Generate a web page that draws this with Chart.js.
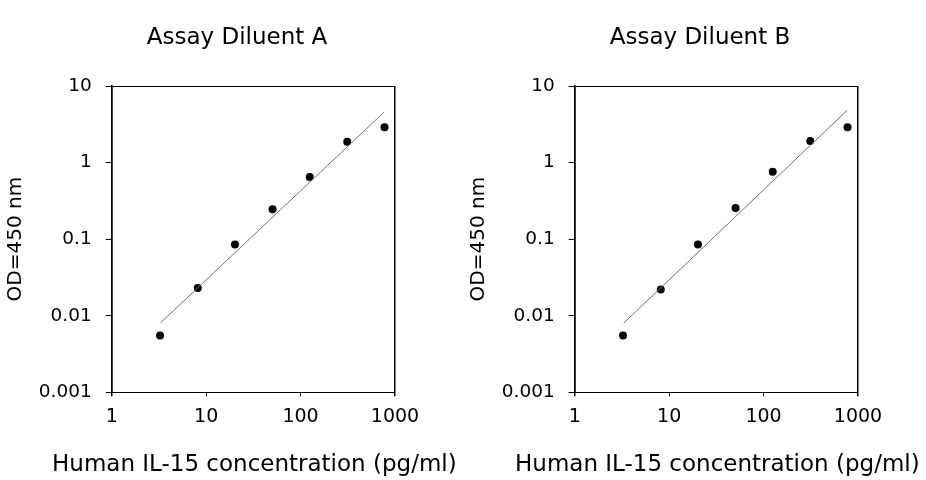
<!DOCTYPE html>
<html>
<head>
<meta charset="utf-8">
<script src="https://cdn.jsdelivr.net/npm/chart.js@4.4.1/dist/chart.umd.min.js"></script>
<style>
  html, body { margin: 0; padding: 0; background: #fff; overflow: hidden; }
  body { width: 926px; height: 480px; position: relative; }
  canvas { position: absolute; top: 0; }
  #chartA { left: 0; }
  #chartB { left: 463px; }
</style>
</head>
<body>
<canvas id="chartA" width="474" height="480"></canvas>
<canvas id="chartB" width="474" height="480"></canvas>
<script>
// values
const concentration = [3.25, 8.15, 20.2, 50.5, 125, 312, 775];
const odDiluentA = [0.0055, 0.023, 0.085, 0.245, 0.65, 1.87, 2.9];
const odDiluentB = [0.0055, 0.022, 0.085, 0.255, 0.76, 1.91, 2.9];

// end points of the fitted lines
const fitConc = [3.3, 765];
const fitDiluentA = [0.0081, 4.55];
const fitDiluentB = [0.0080, 4.8];

const xTicks = [1, 10, 100, 1000];
const yTicks = [0.001, 0.01, 0.1, 1, 10];

Chart.defaults.font.family = "'DejaVu Sans', sans-serif";
Chart.defaults.color = '#000';

// the built-in axis title squeezes text to the axis width, so the
// long x title is drawn here at its natural width
const xTitlePlugin = {
  id: 'xTitle',
  afterDraw(chart, args, opts) {
    const s = chart.scales.x;
    const ctx = chart.ctx;
    ctx.save();
    ctx.font = opts.size + 'px ' + Chart.defaults.font.family;
    ctx.fillStyle = '#000';
    ctx.textAlign = 'center';
    ctx.textBaseline = 'middle';
    ctx.fillText(opts.text, (s.left + s.right) / 2 + 1, s.bottom - 15);
    ctx.restore();
  }
};

function toPoints(xs, ys) {
  return xs.map((x, i) => ({ x: x, y: ys[i] }));
}

function frameColor(ctx, count) {
  return (ctx.index === 0 || ctx.index === count - 1) ? '#000' : 'rgba(0,0,0,0)';
}

function makeChart(id, title, od, fit) {
  return new Chart(document.getElementById(id), {
    type: 'scatter',
    data: {
      datasets: [
        {
          label: 'fit',
          data: toPoints(fitConc, fit),
          showLine: true,
          borderColor: '#707070',
          borderWidth: 1,
          pointRadius: 0
        },
        {
          label: 'OD',
          data: toPoints(concentration, od),
          pointRadius: 4,
          pointBackgroundColor: '#000',
          pointBorderWidth: 0
        }
      ]
    },
    plugins: [xTitlePlugin],
    options: {
      responsive: false,
      animation: false,
      layout: { padding: 0 },
      plugins: {
        legend: { display: false },
        tooltip: { enabled: false },
        title: {
          display: true,
          text: title,
          font: { size: 23, weight: 'normal' },
          color: '#000',
          padding: { top: 24, bottom: 34.4 }
        },
        xTitle: { text: 'Human IL-15 concentration (pg/ml)', size: 23 }
      },
      scales: {
        x: {
          type: 'logarithmic',
          min: 1,
          max: 1000,
          afterBuildTicks: s => { s.ticks = xTicks.map(v => ({ value: v })); },
          afterFit: s => { s.height = 87.7; },
          ticks: {
            callback: v => String(v),
            font: { size: 19 },
            padding: 9,
            maxRotation: 0
          },
          grid: {
            color: c => frameColor(c, xTicks.length),
            lineWidth: c => (c.index === 0 || c.index === xTicks.length - 1) ? 1.5 : 1,
            tickColor: '#000',
            tickLength: 4
          },
          border: { display: true, color: '#000', width: 1 }
        },
        y: {
          type: 'logarithmic',
          min: 0.001,
          max: 10,
          afterBuildTicks: s => { s.ticks = yTicks.map(v => ({ value: v })); },
          afterFit: s => { s.width = 111.7; },
          ticks: {
            callback: v => String(v),
            font: { size: 18.5 },
            padding: 14
          },
          grid: {
            color: c => frameColor(c, yTicks.length),
            lineWidth: 1,
            tickColor: '#000',
            tickLength: 6
          },
          border: { display: true, color: '#000', width: 1.5 },
          title: {
            display: true,
            text: 'OD=450 nm',
            font: { size: 20 },
            padding: { top: 3.5, bottom: 0 }
          }
        },
        // empty right-hand axis that only reserves the space right of the plot
        yRight: {
          position: 'right',
          ticks: { display: false },
          grid: { display: false },
          border: { display: false },
          afterFit: s => { s.width = 79; }
        }
      }
    }
  });
}

makeChart('chartA', 'Assay Diluent A', odDiluentA, fitDiluentA);
makeChart('chartB', 'Assay Diluent B', odDiluentB, fitDiluentB);
</script>
</body>
</html>
